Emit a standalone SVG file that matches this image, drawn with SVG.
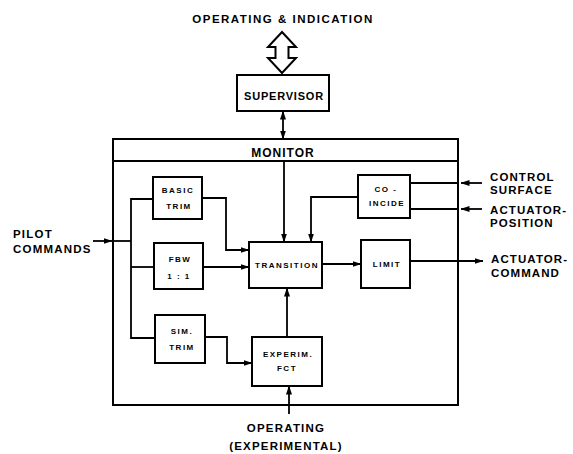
<svg xmlns="http://www.w3.org/2000/svg" width="573" height="454" viewBox="0 0 573 454">
<defs>
<marker id="ah" markerUnits="userSpaceOnUse" markerWidth="9" markerHeight="7" refX="8.5" refY="3.5" orient="auto-start-reverse">
<path d="M0,0.5 L9,3.5 L0,6.5 z" fill="#000"/>
</marker>
</defs>
<style>
.box{fill:#fff;stroke:#000;stroke-width:2}
.ln{fill:none;stroke:#000;stroke-width:1.8}
.t{font-family:"Liberation Sans",Arial,sans-serif;font-weight:bold;fill:#000}
.big{font-size:11.5px;letter-spacing:1.2px}
.rt{font-size:11.5px;letter-spacing:1.1px}
.sm{font-size:8px;letter-spacing:1.5px;text-anchor:middle}
.mid{text-anchor:middle}
</style>
<rect width="573" height="454" fill="#fff"/>

<g id="labels">
<text class="t big mid" x="283" y="23" style="letter-spacing:1.5px">OPERATING &amp; INDICATION</text>
<text class="t big" x="13" y="238">PILOT</text>
<text class="t big" x="13" y="253">COMMANDS</text>
<text class="t rt" x="490" y="181">CONTROL</text>
<text class="t rt" x="490" y="194">SURFACE</text>
<text class="t rt" x="490" y="214">ACTUATOR-</text>
<text class="t rt" x="490" y="227">POSITION</text>
<text class="t rt" x="491" y="263">ACTUATOR-</text>
<text class="t rt" x="491" y="277">COMMAND</text>
<text class="t big mid" x="286" y="432">OPERATING</text>
<text class="t big mid" x="286" y="450">(EXPERIMENTAL)</text>
</g>

<g id="io-arrow">
<polygon points="282,32 296,47 288.5,47 288.5,58 296,58 282,73 268,58 275.5,58 275.5,47 268,47" fill="#fff" stroke="#000" stroke-width="2" stroke-linejoin="miter"/>
</g>

<g id="supervisor">
<rect class="box" x="237" y="75" width="92" height="36"/>
<text class="t mid" x="284" y="100" style="font-size:11px;letter-spacing:0.8px">SUPERVISOR</text>
</g>

<g id="monitor">
<rect x="113" y="139" width="345" height="266" fill="none" stroke="#000" stroke-width="2"/>
<line x1="113" y1="161" x2="458" y2="161" stroke="#000" stroke-width="2"/>
<text class="t mid" x="283" y="157" style="font-size:12px;letter-spacing:1px">MONITOR</text>
</g>

<g id="basic-trim">
<rect class="box" x="153" y="177" width="49" height="42"/>
<text class="t sm" x="178" y="193">BASIC</text>
<text class="t sm" x="179" y="209">TRIM</text>
</g>

<g id="fbw">
<rect class="box" x="154" y="243" width="49" height="46"/>
<text class="t sm" x="180" y="262">FBW</text>
<text class="t sm" x="179" y="279">1 : 1</text>
</g>

<g id="sim-trim">
<rect class="box" x="155" y="315" width="50" height="48"/>
<text class="t sm" x="182" y="334">SIM.</text>
<text class="t sm" x="182" y="350">TRIM</text>
</g>

<g id="transition">
<rect class="box" x="249" y="242" width="73" height="46"/>
<text class="t sm" x="287" y="268">TRANSITION</text>
</g>

<g id="limit">
<rect class="box" x="361" y="240" width="49" height="48"/>
<text class="t sm" x="387" y="267">LIMIT</text>
</g>

<g id="coincide">
<rect class="box" x="358" y="175" width="52" height="43"/>
<text class="t sm" x="386" y="192">CO -</text>
<text class="t sm" x="387" y="206">INCIDE</text>
</g>

<g id="experim">
<rect class="box" x="252" y="337" width="70" height="49"/>
<text class="t sm" x="288" y="357">EXPERIM.</text>
<text class="t sm" x="287" y="371">FCT</text>
</g>

<g id="connectors">
<line class="ln" x1="283" y1="111" x2="283" y2="139" marker-start="url(#ah)" marker-end="url(#ah)"/>
<line class="ln" x1="93" y1="241" x2="112" y2="241" marker-end="url(#ah)"/>
<line class="ln" x1="112" y1="241" x2="131" y2="241"/>
<polyline class="ln" points="153,199 131,199 131,338 155,338"/>
<line class="ln" x1="131" y1="267" x2="154" y2="267"/>
<polyline class="ln" points="202,198 226,198 226,250 249,250" marker-end="url(#ah)"/>
<line class="ln" x1="203" y1="267" x2="249" y2="267" marker-end="url(#ah)"/>
<polyline class="ln" points="205,337 227,337 227,363 252,363" marker-end="url(#ah)"/>
<line class="ln" x1="284" y1="161" x2="284" y2="242" marker-end="url(#ah)"/>
<polyline class="ln" points="358,197 311,197 311,242" marker-end="url(#ah)"/>
<line class="ln" x1="287" y1="337" x2="287" y2="288" marker-end="url(#ah)"/>
<line class="ln" x1="289" y1="414" x2="289" y2="386" marker-end="url(#ah)"/>
<line class="ln" x1="322" y1="264" x2="361" y2="264" marker-end="url(#ah)"/>
<line class="ln" x1="410" y1="261" x2="483" y2="261" marker-end="url(#ah)"/>
<line class="ln" x1="410" y1="183" x2="458" y2="183"/>
<line class="ln" x1="410" y1="209" x2="458" y2="209"/>
<line class="ln" x1="482" y1="183" x2="461" y2="183" marker-end="url(#ah)"/>
<line class="ln" x1="482" y1="209" x2="461" y2="209" marker-end="url(#ah)"/>
</g>
</svg>
